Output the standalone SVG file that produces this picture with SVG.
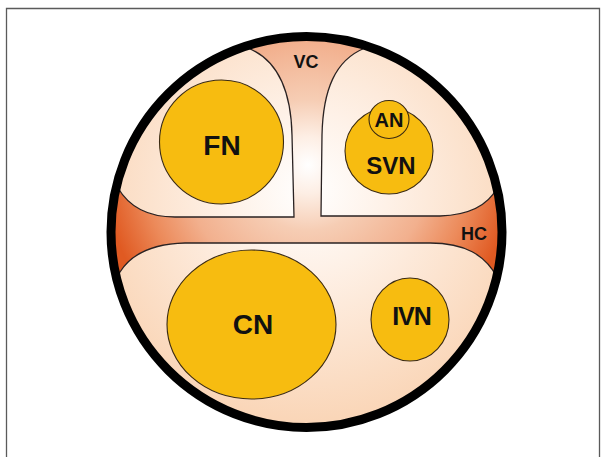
<svg xmlns="http://www.w3.org/2000/svg" width="605" height="457" viewBox="0 0 605 457">
  <style>
    .lbl { font-family: "Liberation Sans", Arial, sans-serif; font-weight: bold; fill: #111111; text-anchor: middle; }
    .nuc { fill: #F7BC10; stroke: #3a2a12; stroke-width: 1.1; }
    .reg { fill: url(#regGrad); stroke: #2a2222; stroke-width: 1.3; }
  </style>
  <defs>
    <radialGradient id="chanGrad" gradientUnits="userSpaceOnUse" cx="308" cy="165" r="205">
      <stop offset="0" stop-color="#FFFFFF"/>
      <stop offset="0.14" stop-color="#FDEEE4"/>
      <stop offset="0.32" stop-color="#F6CDB4"/>
      <stop offset="0.6" stop-color="#F2B08E"/>
      <stop offset="0.8" stop-color="#EC8A5A"/>
      <stop offset="1" stop-color="#E05A22"/>
    </radialGradient>
    <radialGradient id="regGrad" gradientUnits="userSpaceOnUse" cx="308" cy="190" r="230">
      <stop offset="0" stop-color="#FFFFFF"/>
      <stop offset="0.35" stop-color="#FEF1E7"/>
      <stop offset="1" stop-color="#FAD6B8"/>
    </radialGradient>
    <clipPath id="inner">
      <circle cx="306.5" cy="232" r="195"/>
    </clipPath>
  </defs>

  <rect x="0" y="0" width="605" height="457" fill="#FFFFFF"/>
  <g id="frame">
    <path d="M6.5,457 L6.5,8.5 L599.5,8.5 L599.5,457" fill="none" stroke="#5a5a5a" stroke-width="1.3"/>
  </g>

  <g id="brainstem">
    <circle cx="306.5" cy="232" r="195" fill="url(#chanGrad)"/>
    <g clip-path="url(#inner)">
      <path id="region-top-left" class="reg" d="M232,40 L248,48 C278,60 291,90 292,135 L294,217 L175,217 C145,217 128,205 118,188 L108,168 L80,168 L80,20 L232,20 Z"/>
      <path id="region-top-right" class="reg" d="M381,40 L365,48 C335,60 323,90 322,135 L321,216 L440,216 C470,215 488,205 497,188 L507,168 L530,168 L530,20 L381,20 Z"/>
      <path id="region-bottom" class="reg" d="M110,290 L120,272 C130,256 148,244 185,243 L430,243 C465,243 485,255 497,277 L506,294 L530,294 L530,450 L80,450 L80,290 Z"/>
    </g>
  </g>

  <g id="VC">
    <text class="lbl" x="306" y="68" font-size="18">VC</text>
  </g>
  <g id="HC">
    <text class="lbl" x="474" y="240" font-size="18">HC</text>
  </g>

  <g id="FN">
    <circle class="nuc" cx="221.5" cy="142" r="62"/>
    <text class="lbl" x="222" y="155" font-size="28">FN</text>
  </g>
  <g id="SVN">
    <ellipse class="nuc" cx="389" cy="151" rx="44" ry="43"/>
    <text class="lbl" x="391" y="174" font-size="24">SVN</text>
  </g>
  <g id="AN">
    <ellipse class="nuc" cx="389" cy="119.5" rx="20" ry="19"/>
    <text class="lbl" x="389" y="127" font-size="20">AN</text>
  </g>
  <g id="CN">
    <ellipse class="nuc" cx="251.5" cy="324.5" rx="84.5" ry="74.5"/>
    <text class="lbl" x="253" y="334" font-size="28">CN</text>
  </g>
  <g id="IVN">
    <ellipse class="nuc" cx="410" cy="319.5" rx="39" ry="41.5"/>
    <text class="lbl" x="411.5" y="325" font-size="25" letter-spacing="-1">IVN</text>
  </g>

  <g id="outline">
    <circle cx="306.5" cy="232" r="195.5" fill="none" stroke="#000000" stroke-width="9"/>
  </g>
  <g id="connectors"/>
</svg>
